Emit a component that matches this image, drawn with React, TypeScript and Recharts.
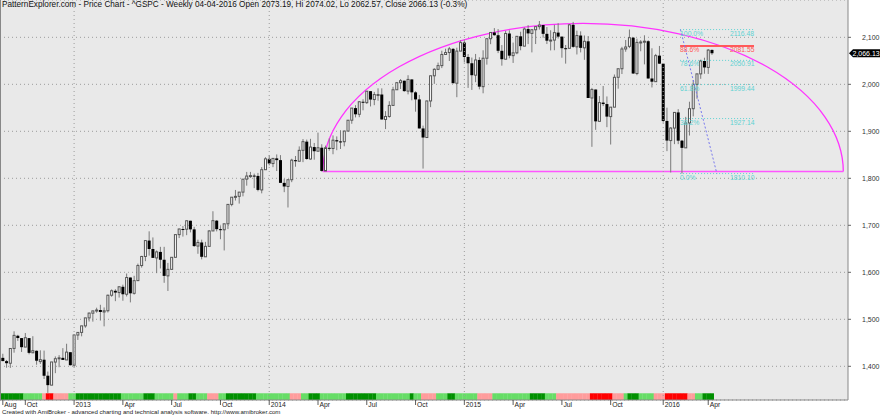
import { ComposedChart, Bar, XAxis, YAxis, CartesianGrid, ReferenceLine, ReferenceArea, ReferenceDot } from 'recharts';

// ^GSPC weekly bars, week ending 24-Aug-2012 .. 08-Apr-2016 (190 bars)
const OPEN = [
  // 2012
  1418, 1411, 1406.5, 1438, 1465, 1460, 1440.9, 1460, 1428.8, 1433, 1410, 1414, 1380, 1359.9, 1409, 1416, 1418, 1413.5, 1430,
  // 2013
  1402.4, 1466.5, 1472.1, 1486, 1502.96, 1513, 1517.9, 1519.8, 1515.6, 1518.2, 1551.2, 1560.7, 1556.9, 1569.2, 1553.3, 1588.9, 1555.3, 1582.3,
  1614.4, 1633.7, 1667.5, 1649.6, 1630.6, 1643.4, 1626.7, 1592.4, 1606.3, 1631.9, 1680.2, 1692.1, 1691.7, 1709.7, 1691.4, 1655.8, 1663.5, 1633,
  1655.2, 1688, 1709.9, 1691.8, 1690.5, 1703.2, 1744.5, 1759.8, 1761.6, 1770.6, 1798.2, 1804.8, 1805.8, 1805.1, 1775.3, 1818.3,
  // 2014
  1841.4, 1831.4, 1842.4, 1838.7, 1790.3, 1782.6, 1797, 1838.6, 1836.3, 1859.5, 1878, 1841.1, 1866.5, 1857.6, 1865.1, 1815.7, 1864.9, 1863.4,
  1881.1, 1878.5, 1877.9, 1900.5, 1923.6, 1949.4, 1936.2, 1962.9, 1961, 1985.4, 1967.6, 1978.2, 1978.3, 1925.2, 1931.6, 1955.1, 1988.4, 2003.4,
  2007.7, 1985.5, 2010.4, 1982.9, 1967.9, 1906.1, 1886.8, 1964.6, 2018.1, 2031.9, 2039.8, 2063.5, 2067.6, 2075.4, 2002.3, 2070.7,
  // 2015
  2088.8, 2058.2, 2044.8, 2019.4, 2051.8, 1995, 2055.5, 2097, 2110.3, 2104.5, 2071.3, 2053.4, 2108.1, 2061, 2067, 2102.1, 2081.2, 2117.7,
  2108.3, 2116.1, 2122.7, 2126.1, 2107.4, 2092.8, 2094.1, 2110, 2101.5, 2076.8, 2076.6, 2126.6, 2079.7, 2103.8, 2077.6, 2091.5, 1970.9, 1988.9,
  1921.2, 1961.1, 1958, 1931.3, 1951.4, 2014.9, 2033.1, 2075.2, 2080.8, 2099.2, 2023, 2089.2, 2090.1, 2091.7, 2012.4, 2005.6, 2061,
  // 2016
  2043.9, 1922, 1880.3, 1906.9, 1940.2, 1880.1, 1864.8, 1917.8, 1948.1, 2000, 2022.2, 2049.6, 2035.9, 2073.19,
];

const HIGH = [
  // 2012
  1426.7, 1413.5, 1438, 1474.5, 1467, 1460, 1470.9, 1460, 1464, 1433.7, 1434, 1433.4, 1388.8, 1409.2, 1421, 1423.7, 1438.6, 1448, 1430,
  // 2013
  1467.9, 1472.3, 1486, 1503.3, 1514.4, 1518.3, 1524.7, 1530.9, 1525.3, 1552.5, 1563.6, 1564, 1570.3, 1573.7, 1597.4, 1589, 1592.6, 1618.5,
  1635, 1667.5, 1687.2, 1674.2, 1646.5, 1654.2, 1654.2, 1620, 1632.1, 1680.2, 1693.1, 1698.4, 1709.7, 1709.7, 1696.8, 1669.5, 1669.5, 1664.8,
  1689.9, 1729.9, 1711.2, 1698.2, 1703.4, 1745.3, 1759.8, 1775.2, 1771, 1798.2, 1813.6, 1813.6, 1810, 1811.5, 1823.8, 1844.9,
  // 2014
  1849.4, 1843.2, 1850.8, 1849.3, 1798.8, 1798, 1841.7, 1847.5, 1867.9, 1883.6, 1882.4, 1884, 1875.2, 1897.3, 1872.5, 1869.6, 1884.9, 1891.3,
  1889.1, 1902.2, 1901.3, 1924, 1949.4, 1955.6, 1963.9, 1968.2, 1985.6, 1985.6, 1983.9, 1991.4, 1991.4, 1942.9, 1964, 1994.8, 2005, 2011.2,
  2007.7, 2019.3, 2010.4, 1985.2, 1977.4, 1912.1, 1965.3, 2018.2, 2034.3, 2046.2, 2071.5, 2075.8, 2079.5, 2077.3, 2077.9, 2093.6,
  // 2015
  2093.6, 2064.4, 2056.9, 2064.6, 2057.6, 2072.4, 2097, 2110.6, 2119.6, 2117.5, 2083.5, 2113.7, 2114.9, 2088.8, 2102.6, 2111.9, 2120.9, 2125.9,
  2117.7, 2123, 2134.7, 2126.2, 2121.9, 2115, 2126.6, 2130, 2101.5, 2083.7, 2128.3, 2132.8, 2114.2, 2112.7, 2103.9, 2102.7, 1992.4, 1988.9,
  1975, 1996.4, 1974.2, 1951.4, 2020.9, 2033.5, 2079.7, 2094.3, 2116.5, 2100.7, 2097.1, 2094.1, 2104.3, 2093.8, 2076.7, 2064.7, 2081.6,
  // 2016
  2043.9, 1950.3, 1908.9, 1940.2, 1947.2, 1881.6, 1930.7, 1963, 2009.1, 2022.4, 2052.4, 2056.6, 2075, 2074.02,
];

const LOW = [
  // 2012
  1410.9, 1397, 1396.6, 1429, 1454, 1430.5, 1440.9, 1425.5, 1428, 1403.3, 1405, 1373, 1343.4, 1359.9, 1385.4, 1398, 1413.5, 1413.5, 1401.6,
  // 2013
  1398.1, 1456.1, 1463.8, 1482, 1495.3, 1495, 1514, 1497.3, 1485, 1514.5, 1548, 1538.6, 1546.2, 1539.5, 1548.6, 1536, 1552.5, 1581.3,
  1610, 1623.7, 1635.5, 1630.7, 1598.2, 1608.2, 1577.7, 1560.3, 1605, 1631.9, 1672.8, 1676, 1679, 1684.9, 1654.2, 1639.4, 1627.5, 1633,
  1655.2, 1687.9, 1687.1, 1670.4, 1646.5, 1692, 1740.5, 1752.7, 1746.2, 1761.6, 1784.4, 1800.9, 1779.1, 1772.3, 1768, 1818.3,
  // 2014
  1827.7, 1823.7, 1815.5, 1790.3, 1770.5, 1737.9, 1791.8, 1824.6, 1836.3, 1834.4, 1839.6, 1839.5, 1839.6, 1857.6, 1814.4, 1815.7, 1858.7, 1851.2,
  1859.8, 1862.4, 1868.1, 1900.5, 1916, 1929.6, 1930, 1944.7, 1958.2, 1952.9, 1955.6, 1965.1, 1925.1, 1904.8, 1929, 1955.1, 1988.4, 1990.1,
  1984.3, 1978.6, 1965.9, 1941.7, 1906.1, 1820.7, 1886.8, 1951.4, 2001, 2030.2, 2034.5, 2062.6, 2049.6, 2002.3, 1972.6, 2070.7,
  // 2015
  2046.5, 1992.4, 1988.1, 2004.5, 1989.2, 1980.9, 2041.9, 2085.4, 2103.5, 2066.4, 2039.7, 2053.4, 2055.3, 2045.5, 2064.1, 2072.4, 2081.2, 2085.6,
  2067.9, 2085.7, 2116.5, 2099.2, 2085.7, 2072.1, 2072.5, 2097.4, 2056.6, 2044, 2076.6, 2077.7, 2063.5, 2067.9, 2052.1, 1970.9, 1867, 1903.1,
  1921.2, 1953.6, 1908.8, 1871.9, 1951.4, 1990.7, 2021.9, 2069.3, 2077, 2022, 2019.4, 2070.3, 2042.4, 2012.4, 1993.3, 2005.6, 2043.6,
  // 2016
  1918.5, 1857.8, 1812.3, 1872.7, 1872.7, 1810.1, 1864.8, 1891, 1931.8, 1969.3, 2011.7, 2022.5, 2022.1, 2062.57,
];

const CLOSE = [
  // 2012
  1411.1, 1406.6, 1437.9, 1465.8, 1460.2, 1440.7, 1460.9, 1428.6, 1433.2, 1411.9, 1414.2, 1379.9, 1359.9, 1409.2, 1416.2, 1418.1, 1413.6, 1430.2, 1402.4,
  // 2013
  1466.5, 1472.1, 1486, 1503, 1513.2, 1517.9, 1519.8, 1515.6, 1518.2, 1551.2, 1560.7, 1556.9, 1569.2, 1553.3, 1588.9, 1555.3, 1582.2, 1614.4,
  1633.7, 1667.5, 1649.6, 1630.7, 1643.4, 1626.7, 1592.4, 1606.3, 1631.9, 1680.2, 1692.1, 1691.7, 1709.7, 1691.4, 1655.8, 1663.5, 1633, 1655.2,
  1688, 1709.9, 1691.8, 1690.5, 1703.2, 1744.5, 1759.8, 1761.6, 1770.6, 1798.2, 1804.8, 1805.8, 1805.1, 1775.3, 1818.3, 1841.4,
  // 2014
  1831.4, 1842.4, 1838.7, 1790.3, 1782.6, 1797, 1838.6, 1836.3, 1859.5, 1878, 1841.1, 1866.5, 1857.6, 1865.1, 1815.7, 1864.9, 1863.4, 1881.1,
  1878.5, 1877.9, 1900.5, 1923.6, 1949.4, 1936.2, 1962.9, 1961, 1985.4, 1967.6, 1978.2, 1978.3, 1925.2, 1931.6, 1955.1, 1988.4, 2003.4, 2007.7,
  1985.5, 2010.4, 1982.9, 1967.9, 1906.1, 1886.8, 1964.6, 2018.1, 2031.9, 2039.8, 2063.5, 2067.6, 2075.4, 2002.3, 2070.7, 2088.8,
  // 2015
  2058.2, 2044.8, 2019.4, 2051.8, 1995, 2055.5, 2097, 2110.3, 2104.5, 2071.3, 2053.4, 2108.1, 2061, 2067, 2102.1, 2081.2, 2117.7, 2108.3,
  2116.1, 2122.7, 2126.1, 2107.4, 2092.8, 2094.1, 2110, 2101.5, 2076.8, 2076.6, 2126.6, 2079.7, 2103.8, 2077.6, 2091.5, 1970.9, 1988.9, 1921.2,
  1961.1, 1958, 1931.3, 1951.4, 2014.9, 2033.1, 2075.2, 2079.4, 2099.2, 2023, 2089.2, 2090.1, 2091.7, 2012.4, 2005.6, 2061, 2043.9,
  // 2016
  1922, 1880.3, 1906.9, 1940.2, 1880.1, 1864.8, 1917.8, 1948.1, 2000, 2022.2, 2049.6, 2035.9, 2072.8, 2066.13,
];

// trend ribbon under the bars: D dark green, L light green, P pink, R red
const TREND = [
  'DDDDDD', 'LLLLL', 'P', 'RR', 'PPPP', 'LL', 'DDDDDDDDDDDD', 'LLLLLL', 'DDD', 'LLLLL', 'P', 'LLL', 'DD', 'LLL', 'PPP', 'LL',
  'DDDDDDDD', 'LLLLLLLLL', 'PPP', 'LL', 'DDD', 'LLLLLLL', 'DDDDDDDD', 'LLLLLLLLL', 'D', 'LL', 'PPPP', 'LLL', 'DD', 'LLLLLL',
  'PPPP', 'LLLLLLLLLL', 'DDDD', 'LLL', 'PPPPPPPPP', 'RRRRRR', 'PPP', 'L', 'DDD', 'LLLL', 'PPP', 'RRRRRR', 'PP', 'LL', 'DDD',
].join('').split('');

const TREND_COLORS: Record<string, string> = { D: '#009000', L: '#66dd66', P: '#ff9c9c', R: '#ff0000' };

// first bar of each labelled month
const TICK_BARS = [0, 6, 19, 32, 45, 58, 71, 84, 97, 110, 123, 136, 149, 162, 176, 188];
const TICK_LABELS = ['Aug', 'Oct', '2013', 'Apr', 'Jul', 'Oct', '2014', 'Apr', 'Jul', 'Oct', '2015', 'Apr', 'Jul', 'Oct', '2016', 'Apr'];
const YEAR_BARS = [19, 71, 123, 176];

const PRICE_TICKS = [1400, 1500, 1600, 1700, 1800, 1900, 2000, 2100];

const FIB_PCT = ['100.0%', '88.6%', '78.6%', '61.8%', '38.2%', '0.0%'];
const FIB_VALUES = [2116.48, 2081.55, 2050.91, 1999.44, 1927.14, 1810.1];
const FIB_FROM = 180.5;
const FIB_TO = 200.2;
const FIB_VALUE_AT = 193.8;
const FIB_TREND = [{ x: 180.6, y: 2116.48 }, { x: 190.3, y: 1810.1 }];

// cup drawn from the Apr-2014 low
const CUP_FROM = 85.3;
const CUP_TO = 224;
const CUP_BASE = 1814.36;
const CUP_TOP = 2129.8;

const LAST_CLOSE = 2066.13;

const X_MIN = -0.75;
const X_MAX = 225.25;
const Y_MIN = 1328.3;
const Y_MAX = 2179.4;
const RIBBON_TOP = 1342.6;

const FONT = '"Liberation Sans", Arial, sans-serif';

const data = OPEN.map((o, i) => ({
  i,
  open: o,
  high: HIGH[i],
  low: LOW[i],
  close: CLOSE[i],
  trend: TREND[i],
}));

function Candle(props: any) {
  const { x, y, width, height, payload } = props;
  if (!payload) return null;
  const { open, high, low, close, trend } = payload;
  const cx = x + width / 2;
  const k = height / (high - low);
  const yOf = (v: number) => y + (high - v) * k;
  const up = close >= open;
  const bTop = yOf(Math.max(open, close));
  const bBot = yOf(Math.min(open, close));
  const bh = Math.max(1, bBot - bTop);
  const rTop = yOf(RIBBON_TOP);
  const rBot = yOf(Y_MIN);
  return (
    <g>
      <rect x={cx - (width + 1) / 2} y={rTop} width={width + 1} height={rBot - rTop} fill={TREND_COLORS[trend]} />
      <line x1={cx} x2={cx} y1={y} y2={y + height} stroke="#7a7a7a" strokeWidth={1} />
      {up ? (
        <rect x={cx - 1} y={bTop} width={2} height={bh} fill="#ffffff" stroke="#555" strokeWidth={1} />
      ) : (
        <rect x={cx - 1.5} y={bTop} width={3} height={bh} fill="#000" />
      )}
    </g>
  );
}

function MonthTick(props: any) {
  const { x, y, payload } = props;
  const label = TICK_LABELS[TICK_BARS.indexOf(payload.value)];
  return (
    <g>
      <line x1={x} x2={x} y1={y} y2={y + 5} stroke="#333" strokeWidth={0.8} />
      <text x={x + 1.5} y={y + 6.5} fontSize={6.8} fontFamily={FONT} fill="#222">
        {label}
      </text>
    </g>
  );
}

function Cup(props: any) {
  const { x, y, width, height } = props;
  const base = y + height;
  return (
    <g>
      <path d={`M ${x} ${base} A ${width / 2} ${height} 0 0 1 ${x + width} ${base}`} fill="none" stroke="#ff33ff" strokeWidth={1.3} />
      <line x1={x} x2={x + width} y1={base} y2={base} stroke="#ff55ff" strokeWidth={1.6} />
    </g>
  );
}

const fibColor = (idx: number) => (FIB_PCT[idx] === '88.6%' ? '#ff5a5a' : '#5fd2d2');

export default function App() {
  return (
    <div style={{ position: 'absolute', left: 0, top: 0, width: 880, height: 415, background: '#fff', fontFamily: FONT }}>
      <ComposedChart
        width={880}
        height={415}
        data={data}
        margin={{ top: 0, right: 0, bottom: 0, left: 0 }}
      >
        <CartesianGrid vertical={false} stroke="#9c9c9c" strokeDasharray="1 3" fill="#e9e9e9" />
        <XAxis
          dataKey="i"
          type="number"
          domain={[X_MIN, X_MAX]}
          allowDataOverflow
          ticks={TICK_BARS}
          interval={0}
          tick={<MonthTick />}
          tickLine={false}
          tickSize={0}
          tickMargin={0}
          height={15}
          axisLine={{ stroke: '#888' }}
        />
        <YAxis
          orientation="right"
          domain={[Y_MIN, Y_MAX]}
          allowDataOverflow
          ticks={PRICE_TICKS}
          interval={0}
          width={32}
          tickSize={3}
          tickMargin={11}
          tickFormatter={(v: number) => v.toLocaleString('en-US')}
          tick={{ fontSize: 7, fill: '#333', fontFamily: FONT }}
          tickLine={{ stroke: '#666' }}
          axisLine={{ stroke: '#888' }}
        />
        {YEAR_BARS.map((b) => (
          <ReferenceLine key={b} x={b} stroke="#9c9c9c" strokeDasharray="1 3" />
        ))}
        <Bar dataKey={(d: any) => [d.low, d.high]} shape={<Candle />} isAnimationActive={false} />
        <ReferenceArea x1={CUP_FROM} x2={CUP_TO} y1={CUP_BASE} y2={CUP_TOP} shape={(p: any) => <Cup {...p} />} />
        {FIB_VALUES.map((v, idx) => (
          <ReferenceLine
            key={'l' + idx}
            segment={[{ x: FIB_FROM, y: v }, { x: FIB_TO, y: v }]}
            stroke={fibColor(idx)}
            strokeWidth={FIB_PCT[idx] === '88.6%' ? 2 : 1}
            strokeDasharray={FIB_PCT[idx] === '88.6%' ? undefined : '1 2'}
          />
        ))}
        <ReferenceLine segment={FIB_TREND} stroke="#7878ee" strokeDasharray="2 2" />
        {FIB_VALUES.map((v, idx) => (
          <ReferenceDot
            key={'p' + idx}
            x={FIB_FROM}
            y={v}
            r={0}
            shape={(p: any) => (
              <text x={p.cx} y={p.cy + 6} fontSize={6.8} fontFamily={FONT} fill={fibColor(idx)}>
                {FIB_PCT[idx]}
              </text>
            )}
          />
        ))}
        {FIB_VALUES.map((v, idx) => (
          <ReferenceDot
            key={'v' + idx}
            x={FIB_VALUE_AT}
            y={v}
            r={0}
            shape={(p: any) => (
              <text x={p.cx} y={p.cy + 6} fontSize={6.8} fontFamily={FONT} fill={fibColor(idx)}>
                {v.toFixed(2)}
              </text>
            )}
          />
        ))}
        <ReferenceDot
          x={X_MAX}
          y={LAST_CLOSE}
          r={0}
          ifOverflow="visible"
          shape={(p: any) => (
            <g>
              <polygon
                points={`${p.cx + 1},${p.cy} ${p.cx + 5},${p.cy - 4} ${p.cx + 32},${p.cy - 4} ${p.cx + 32},${p.cy + 4} ${p.cx + 5},${p.cy + 4}`}
                fill="#000"
              />
              <text x={p.cx + 4.5} y={p.cy + 2.5} fontSize={7} fontFamily={FONT} fill="#fff">
                {LAST_CLOSE.toLocaleString('en-US', { minimumFractionDigits: 2 })}
              </text>
            </g>
          )}
        />
      </ComposedChart>
      <div style={{ position: 'absolute', left: 0, top: 0, width: 1, height: 400, background: '#888' }} />
      <div style={{ position: 'absolute', left: 2, top: 0, fontSize: 8.2, lineHeight: '9px', color: '#111', whiteSpace: 'nowrap' }}>
        PatternExplorer.com - Price Chart - ^GSPC - Weekly 04-04-2016 Open 2073.19, Hi 2074.02, Lo 2062.57, Close 2066.13 (-0.3%)
      </div>
      <div style={{ position: 'absolute', left: 2, top: 407.5, fontSize: 6.1, lineHeight: '7px', color: '#222', whiteSpace: 'nowrap' }}>
        Created with AmiBroker - advanced charting and technical analysis software. http://www.amibroker.com
      </div>
    </div>
  );
}
